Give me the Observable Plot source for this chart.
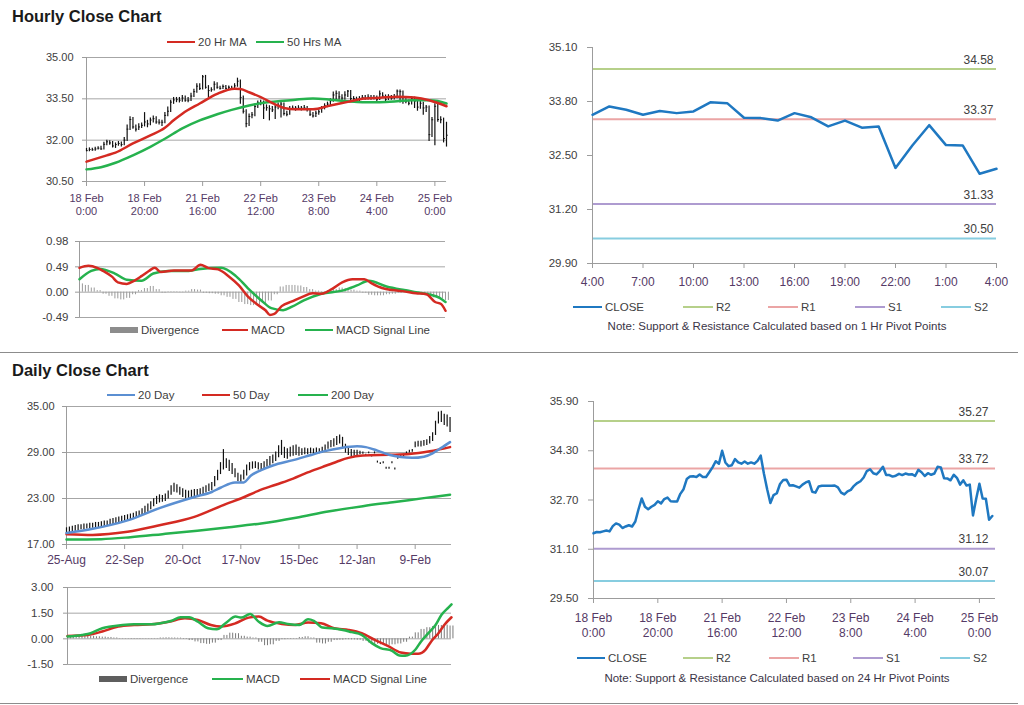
<!DOCTYPE html>
<html><head><meta charset="utf-8">
<script src="https://cdn.jsdelivr.net/npm/d3@7"></script>
<script src="https://cdn.jsdelivr.net/npm/@observablehq/plot@0.6"></script>
<style>
body{margin:0;background:#fff;font-family:"Liberation Sans",Arial,sans-serif;}
#root{position:relative;width:1024px;height:705px;overflow:hidden;background:#fff;}
.abs{position:absolute;}
.title{font-weight:bold;font-size:16.5px;color:#1a1a1a;line-height:1;white-space:nowrap;}
.leg{font-size:11.5px;color:#404040;white-space:nowrap;line-height:14px;}
.note{font-size:11.5px;color:#3a3446;white-space:nowrap;line-height:14px;text-align:center;}
.sep{position:absolute;left:4px;width:1018px;height:1px;background:#8c8c8c;}
</style></head><body><div id="root"></div>
<script>
// ---------------- DATA ----------------
// Hourly bars (18 Feb 0:00 .. 25 Feb 4:00, trading hours), index 0..124
const hourlyClose = [
31.62,31.66,31.65,31.68,31.71,31.68,31.85,31.94,31.90,31.79,
31.84,31.88,31.84,32.00,32.40,32.75,32.48,32.40,32.48,32.54,
32.66,32.59,32.73,32.78,32.66,32.65,32.65,32.90,33.05,33.38,
33.46,33.47,33.45,33.53,33.45,33.45,33.60,33.76,33.96,33.88,
34.30,33.92,33.80,33.83,34.03,33.92,33.88,33.95,33.88,33.92,
33.88,33.97,34.14,33.55,33.05,32.60,32.86,32.92,33.22,33.35,
33.36,33.17,33.18,33.14,33.10,33.20,33.27,33.31,32.97,32.94,
33.14,33.16,33.16,33.16,33.16,33.17,33.11,32.94,32.88,32.98,
33.03,33.16,33.25,33.31,33.43,33.64,33.70,33.57,33.53,33.64,
33.78,33.51,33.51,33.46,33.49,33.55,33.51,33.56,33.53,33.54,
33.48,33.68,33.60,33.48,33.57,33.52,33.56,33.78,33.76,33.41,
33.40,33.34,33.52,33.42,33.20,33.34,33.17,33.20,32.20,32.74,
33.23,32.75,32.74,32.06,32.18];
const hourlyHigh = [
31.70,31.72,31.71,31.74,31.76,31.78,31.92,32.00,31.98,31.95,
31.90,31.95,31.93,32.10,32.55,32.85,32.82,32.55,32.60,32.62,
33.00,32.72,32.80,32.88,32.85,32.74,32.72,33.00,33.20,33.45,
33.55,33.55,33.55,33.62,33.60,33.55,33.70,33.85,34.05,34.05,
34.35,34.35,33.98,33.90,34.12,34.08,33.96,34.00,33.98,33.97,
33.96,34.05,34.25,34.18,33.60,33.10,32.95,33.00,33.30,33.42,
33.45,33.42,33.28,33.25,33.22,33.28,33.35,33.40,33.35,33.05,
33.22,33.24,33.22,33.25,33.22,33.26,33.22,33.15,33.00,33.05,
33.10,33.22,33.32,33.38,33.50,33.75,33.78,33.76,33.65,33.76,
33.80,33.80,33.58,33.56,33.58,33.62,33.62,33.65,33.62,33.62,
33.60,33.78,33.72,33.64,33.65,33.62,33.66,33.82,33.82,33.78,
33.50,33.46,33.58,33.56,33.46,33.40,33.38,33.26,33.24,32.82,
33.32,33.30,32.85,32.80,32.65];
const hourlyLow = [
31.58,31.58,31.60,31.60,31.64,31.63,31.64,31.80,31.82,31.72,
31.70,31.78,31.75,31.80,31.95,32.35,32.40,32.30,32.35,32.42,
32.48,32.45,32.52,32.62,32.58,32.55,32.50,32.60,32.85,33.00,
33.30,33.36,33.35,33.38,33.38,33.36,33.40,33.55,33.70,33.80,
33.82,33.85,33.55,33.74,33.78,33.85,33.82,33.84,33.82,33.84,
33.82,33.84,33.92,33.30,32.95,32.45,32.50,32.78,32.85,33.15,
33.25,32.75,33.05,32.70,33.00,32.75,33.10,32.80,32.88,32.85,
32.90,33.08,33.05,33.08,33.06,33.08,33.02,32.86,32.80,32.82,
32.90,32.98,33.10,33.18,33.25,33.38,33.40,33.45,33.42,33.45,
33.55,33.40,33.42,33.38,33.40,33.44,33.45,33.46,33.45,33.46,
33.40,33.44,33.52,33.40,33.44,33.45,33.46,33.50,33.35,33.30,
33.32,33.25,33.28,33.15,33.05,33.12,32.90,33.00,31.95,32.10,
31.80,32.65,32.60,31.90,31.75];
// moving averages read at [hour index, value]
const ma20Hr = [[0,31.22],[7,31.45],[10,31.55],[16,31.88],[22,32.17],[27,32.45],[30,32.72],[33,32.96],[39,33.33],[45,33.68],[51,33.87],[53,33.86],[56,33.74],[60,33.56],[65,33.30],[68,33.17],[72,33.12],[78,33.12],[84,33.26],[90,33.39],[95,33.50],[101,33.54],[107,33.58],[113,33.55],[118,33.45],[121,33.35],[124,33.23]];
const ma50Hr = [[0,30.94],[5,31.02],[10,31.18],[16,31.45],[22,31.76],[27,32.05],[33,32.43],[39,32.72],[45,32.94],[50,33.10],[56,33.26],[61,33.36],[66,33.41],[72,33.47],[78,33.51],[84,33.47],[90,33.41],[95,33.38],[101,33.38],[107,33.41],[112,33.45],[118,33.45],[121,33.42],[124,33.33]];
// hourly MACD
const macdHr = [[0,0.47],[3,0.51],[6,0.47],[8,0.41],[11,0.30],[13,0.19],[16,0.16],[18.5,0.22],[21,0.31],[23.5,0.41],[25.5,0.47],[27.5,0.39],[32,0.42],[38,0.42],[41,0.53],[43.5,0.47],[47,0.44],[50.5,0.31],[54,0.13],[57,-0.08],[60.5,-0.25],[63,-0.35],[64.5,-0.44],[66,-0.42],[68.5,-0.27],[72,-0.18],[75.5,-0.09],[79,-0.02],[82,-0.03],[85.5,0.06],[89,0.19],[92.5,0.25],[96.5,0.25],[99,0.17],[102.5,0.08],[106,0.04],[109.5,0.02],[114,-0.02],[117.5,-0.04],[120.5,-0.19],[122.5,-0.23],[124,-0.36]];
const signalHr = [[0,0.25],[4,0.41],[7,0.45],[12,0.36],[16,0.24],[21,0.22],[25,0.36],[30,0.41],[37,0.41],[41,0.45],[48,0.47],[53,0.31],[57,0.08],[62,-0.18],[65,-0.31],[69,-0.35],[72,-0.28],[76,-0.16],[82,-0.03],[89,0.03],[94,0.13],[98,0.22],[104,0.11],[110,0.04],[114,0.00],[119,-0.05],[122,-0.11],[124,-0.19]];
// hourly divergence, every 2nd hour (0,2,...,124)
const divHr = [0.16,0.13,0.08,0.03,-0.04,-0.08,-0.13,-0.15,-0.12,-0.05,
0.03,0.07,0.11,0.05,-0.02,0.01,0.01,-0.01,0.02,0.05,
0.04,-0.02,-0.03,-0.04,-0.07,-0.1,-0.14,-0.2,-0.24,-0.26,
-0.25,-0.22,-0.17,-0.05,0.1,0.13,0.13,0.12,0.09,0.05,
0.02,0.01,0.03,0.05,0.08,0.07,0.04,0.02,-0.02,-0.06,
-0.07,-0.07,-0.05,-0.04,-0.02,-0.01,-0.02,-0.03,-0.05,-0.08,
-0.11,-0.13,-0.16];

// Daily bars (25-Aug .. 25-Feb trading days), index 0..132
const dailyHigh = [
19.1,19.2,19.3,19.4,19.5,19.5,19.6,19.6,19.7,19.7,
19.8,19.8,19.9,20.0,20.0,20.2,20.3,20.4,20.5,20.6,
20.7,20.8,20.9,21.0,21.2,21.3,21.6,21.9,22.2,22.5,
22.9,23.2,23.4,23.3,23.5,23.9,24.6,24.9,24.7,24.4,
24.2,24.0,23.9,24.0,24.1,24.1,24.2,24.4,24.6,24.8,
25.0,25.8,26.6,27.6,29.3,28.1,27.9,27.5,26.8,26.2,
26.0,26.6,27.3,27.6,27.7,27.7,27.6,27.5,27.7,28.0,
28.4,28.6,29.0,29.8,30.5,29.6,29.4,29.6,29.8,29.9,
29.6,29.4,29.5,29.4,29.5,29.4,29.5,29.4,29.6,29.9,
30.3,30.5,30.7,31.0,31.2,30.9,30.0,29.6,29.3,29.2,
29.2,29.1,29.0,28.7,29.0,28.6,29.0,27.8,27.6,27.7,
27.0,27.0,27.7,26.9,28.5,28.6,28.7,29.0,29.2,29.3,
30.3,30.4,30.4,30.5,30.6,31.0,31.5,33.0,34.2,34.3,
33.9,33.8,33.5];
const dailyLow = [
18.5,18.6,18.7,18.8,18.9,19.0,19.0,19.1,19.1,19.2,
19.2,19.3,19.4,19.4,19.5,19.6,19.7,19.8,19.9,20.0,
20.1,20.2,20.3,20.4,20.5,20.6,20.8,21.1,21.3,21.6,
22.0,22.3,22.5,22.6,22.7,23.0,23.5,23.9,23.8,23.5,
23.2,23.0,23.1,23.2,23.3,23.4,23.4,23.6,23.8,24.0,
24.1,24.6,25.4,26.2,26.8,27.0,26.6,26.2,25.8,25.3,
25.2,25.5,26.0,26.7,26.9,27.0,26.8,26.7,26.9,27.2,
27.3,27.6,27.9,28.4,28.7,28.3,28.2,28.5,28.6,28.7,
28.6,28.7,28.8,28.8,28.9,28.8,28.9,28.9,29.0,29.2,
29.5,29.7,29.8,30.0,30.2,29.6,29.0,28.7,28.5,28.6,
28.7,28.8,28.85,28.6,28.9,28.5,28.9,27.7,27.5,27.6,
26.9,26.9,27.6,26.8,28.2,28.3,28.5,28.8,29.0,29.1,
29.7,29.8,29.8,29.9,30.0,30.2,30.5,31.3,32.8,33.0,
32.6,32.4,31.7];
const ma20Day = [[0,18.5],[9,19.05],[21,20.15],[32,21.75],[44,23.2],[50,23.85],[53,24.4],[58,25.1],[61,25.1],[63.5,26.0],[67,26.7],[71,27.3],[78,28.0],[83.5,28.6],[88.5,29.15],[94.5,29.6],[100,29.8],[103,29.7],[107,29.25],[111,28.7],[115,28.4],[119,28.3],[123,28.45],[126,28.9],[129,29.6],[132,30.35]];
const ma50Day = [[0,18.35],[9,18.25],[21,18.65],[32,19.5],[44,20.6],[55,22.3],[60,23.0],[66,24.0],[72,24.8],[78,25.6],[83,26.4],[88,27.1],[93,27.8],[97,28.3],[102,28.6],[111,28.7],[118,28.8],[125,29.15],[132,29.7]];
const ma200Day = [[0,17.65],[12,17.7],[22,17.95],[33,18.35],[45,18.8],[56,19.25],[67,19.75],[79,20.5],[90,21.3],[102,22.0],[113,22.55],[123,23.05],[132,23.5]];
const macdDay = [[0,0.14],[5,0.23],[8,0.33],[12,0.62],[15,0.72],[19,0.81],[23,0.85],[29,0.85],[32,0.91],[36,1.06],[39,1.26],[42,1.26],[45,1.00],[48.5,0.62],[51.5,0.56],[54.5,0.91],[58,1.30],[60,1.24],[63,1.45],[66,1.00],[69,0.75],[73,0.97],[76,0.87],[80,0.81],[83,1.14],[85,1.05],[88,0.66],[91,0.62],[95,0.52],[98,0.39],[101.5,0.23],[105,-0.25],[108,-0.54],[112,-0.70],[114.5,-0.97],[116.5,-0.99],[120,-0.64],[122,-0.15],[124.5,0.33],[127,0.81],[129,1.39],[131.5,1.84],[132.5,2.01]];
const signalDay = [[0,0.17],[7,0.23],[12,0.43],[17.5,0.72],[23,0.81],[29,0.85],[35,1.00],[40.5,1.20],[45,1.10],[49.5,0.81],[53,0.72],[58,0.91],[62.5,1.24],[66,1.30],[69,1.06],[74,0.87],[78.5,0.81],[83,0.95],[87.5,0.91],[92,0.62],[97,0.52],[101.5,0.33],[106,-0.06],[110.5,-0.41],[115,-0.80],[118.5,-0.87],[121,-0.87],[123.5,-0.64],[125.5,-0.15],[128,0.33],[130,0.81],[132.5,1.26]];
// daily divergence, every 2nd day (0,2,...,132)
const divDay = [0.15,0.18,0.2,0.18,0.15,0.12,0.1,0.08,0.05,0.02,
-0.02,-0.03,-0.03,-0.02,-0.02,0.02,0.05,0.06,0.05,0.04,
-0.03,-0.1,-0.18,-0.28,-0.32,-0.25,-0.1,0.2,0.33,0.3,
0.15,0.1,0.05,-0.2,-0.4,-0.35,-0.15,-0.05,-0.03,0.02,
0.08,0.12,0.05,-0.25,-0.3,-0.2,-0.1,-0.08,-0.05,-0.06,
-0.08,-0.15,-0.25,-0.32,-0.35,-0.38,-0.35,-0.3,-0.2,0.1,
0.35,0.55,0.65,0.72,0.78,0.8,0.75];

// pivots
const pivotNames = ["R2","R1","S1","S2"];
const pivotHourly = [34.58, 33.37, 31.33, 30.50];
const pivotDaily = [35.27, 33.72, 31.12, 30.07];

// ticks & labels
const hourTickIdx = [0,20,40,60,80,100,120];
const hourTickLabels = ["18 Feb\n0:00","18 Feb\n20:00","21 Feb\n16:00","22 Feb\n12:00","23 Feb\n8:00","24 Feb\n4:00","25 Feb\n0:00"];
const pivotHrTickIdx = [0,3,6,9,12,15,18,21,24];
const pivotHrTickLabels = ["4:00","7:00","10:00","13:00","16:00","19:00","22:00","1:00","4:00"];
const dayTickIdx = [0,20,40,60,80,100,120];
const dayTickLabels = ["25-Aug","22-Sep","20-Oct","17-Nov","15-Dec","12-Jan","9-Feb"];
const yHrCandle = [30.5,32,33.5,35];
const yHrMacd = [-0.49,0,0.49,0.98];
const yHrPivot = [29.9,31.2,32.5,33.8,35.1];
const yDayCandle = [17,23,29,35];
const yDayMacd = [-1.5,0,1.5,3];
const yDayPivot = [29.5,31.1,32.7,34.3,35.9];

// ---------------- STYLE ----------------
const RED = "#d42a22", GREEN = "#26b24e", BLUE20 = "#5b8fd2", CLOSE = "#1f78c1";
const pivotColors = ["#b6d08a","#eba5a5","#ae9bd0","#87cde0"];
const GRID = "#a6a6a6", AX = "#9c9c9c", YL = "#404040", XL = "#553a66";
const FONT = '"Liberation Sans", Arial, sans-serif';
const root = document.getElementById("root");
const fmt2 = d => d.toFixed(2);
const pairs = a => a.map(([i,v]) => ({i, v}));
const baseStyle = {fontFamily: FONT, fontSize: "11px", background: "transparent", color: YL, overflow: "visible"};
function place(el, left, top){ el.style.position="absolute"; el.style.left=left+"px"; el.style.top=top+"px"; root.appendChild(el); }
function div(cls, left, top, text, extra){ const d=document.createElement("div"); d.className="abs "+cls; d.style.left=left+"px"; d.style.top=top+"px"; if(text!=null) d.textContent=text; if(extra) Object.assign(d.style, extra); root.appendChild(d); return d; }
function legend(y, items){
  items.forEach(it=>{
    const h = it.rect ? 6 : (it.thick||2);
    div("", it.x, y - h/2, null, {width: it.w+"px", height: h+"px", background: it.color});
    div("leg", it.x + it.w + 3, y - 7.5, it.label);
  });
}

// titles & separators
div("title", 12, 8, "Hourly Close Chart");
div("title", 12, 362, "Daily Close Chart");
div("sep", 0, 352);
div("sep", 0, 703);

// -------- Panel 1: hourly bars + MAs --------
const hourlyRows = hourlyClose.map((c,i)=>({i, close:c, high:hourlyHigh[i], low:hourlyLow[i]}));
place(Plot.plot({
  width:460, height:200, marginLeft:86, marginRight:14, marginTop:27, marginBottom:49,
  style: baseStyle, x:{domain:[0,124]}, y:{domain:[30.5,35]},
  marks:[
    Plot.gridY({ticks:yHrCandle, stroke:GRID, strokeOpacity:1}),
    Plot.ruleX([0],{stroke:AX}),
    Plot.axisY({ticks:yHrCandle, tickFormat:fmt2, tickSize:4, tickPadding:9, stroke:AX, fill:YL, fontSize:11, label:null}),
    Plot.axisX({ticks:hourTickIdx, tickFormat:i=>hourTickLabels[hourTickIdx.indexOf(i)], tickSize:5, tickPadding:6, stroke:AX, fill:XL, fontSize:11, lineHeight:1.2, label:null}),
    Plot.ruleX(hourlyRows,{x:"i", y1:"low", y2:"high", stroke:"#111", strokeWidth:1.2}),
    Plot.ruleY(hourlyRows,{y:"close", x1:"i", x2:d=>d.i+0.6, stroke:"#111", strokeWidth:1}),
    Plot.line(pairs(ma50Hr),{x:"i", y:"v", stroke:GREEN, strokeWidth:2.5, curve:"monotone-x"}),
    Plot.line(pairs(ma20Hr),{x:"i", y:"v", stroke:RED, strokeWidth:2.5, curve:"monotone-x"})
  ]
}), 0, 30);
legend(42, [{x:167,w:28,color:RED,label:"20 Hr MA"},{x:256,w:28,color:GREEN,label:"50 Hrs MA"}]);

// -------- Panel 2: hourly MACD --------
const divHrRows = divHr.map((v,k)=>({i:2*k, v}));
place(Plot.plot({
  width:460, height:100, marginLeft:79, marginRight:15, marginTop:16, marginBottom:8,
  style: baseStyle, x:{domain:[0,124], axis:null}, y:{domain:[-0.49,0.98]},
  marks:[
    Plot.gridY({ticks:yHrMacd, stroke:GRID, strokeOpacity:1}),
    Plot.ruleX([0],{stroke:AX}),
    Plot.axisY({ticks:yHrMacd, tickFormat:fmt2, tickSize:4, tickPadding:7, stroke:AX, fill:YL, fontSize:11.5, label:null}),
    Plot.ruleX(divHrRows,{x:"i", y1:0, y2:"v", stroke:"#9a9a9a", strokeWidth:1}),
    Plot.ruleX(divHrRows,{x:"i", y1:0, y2:"v", stroke:"#9a9a9a", strokeWidth:1, dx:2.9}),
    Plot.line(pairs(signalHr),{x:"i", y:"v", stroke:GREEN, strokeWidth:2.5, curve:"monotone-x"}),
    Plot.line(pairs(macdHr),{x:"i", y:"v", stroke:RED, strokeWidth:2.5, curve:"monotone-x"})
  ]
}), 0, 225);
legend(330, [{x:110,w:28,color:"#8c8c8c",rect:true,label:"Divergence"},{x:222,w:26,color:RED,label:"MACD"},{x:305,w:28,color:GREEN,label:"MACD Signal Line"}]);

// -------- Panel 3: last 24 hours with 1 Hr pivots --------
const pivHr = pivotNames.map((n,k)=>({name:n, value:pivotHourly[k], color:pivotColors[k]}));
place(Plot.plot({
  width:500, height:270, marginLeft:72, marginRight:24, marginTop:17, marginBottom:37,
  style: baseStyle, x:{domain:[0,24]}, y:{domain:[29.9,35.1]}, color:{type:"identity"},
  marks:[
    Plot.ruleY(pivHr,{y:"value", stroke:"color", strokeWidth:2}),
    Plot.ruleX([0],{stroke:AX}),
    Plot.ruleY([29.9],{stroke:AX}),
    Plot.axisY({ticks:yHrPivot, tickFormat:fmt2, tickSize:5, tickPadding:10, stroke:AX, fill:YL, fontSize:11.5, label:null}),
    Plot.axisX({ticks:pivotHrTickIdx, tickFormat:i=>pivotHrTickLabels[pivotHrTickIdx.indexOf(i)], tickSize:5, tickPadding:9, stroke:AX, fill:XL, fontSize:12, label:null}),
    Plot.text(pivHr,{x:()=>24, y:"value", text:d=>fmt2(d.value), textAnchor:"end", dx:-3, dy:-9, fontSize:12, fill:YL}),
    Plot.line(hourlyClose.slice(100),{x:(d,i)=>i, y:d=>d, stroke:CLOSE, strokeWidth:2.5})
  ]
}), 520, 30);
legend(307, [{x:573,w:29,color:CLOSE,thick:2.5,label:"CLOSE"},
  ...pivotNames.map((n,k)=>({x:[683,768,855,941][k], w:30, color:pivotColors[k], label:n}))]);
div("note", 577, 319, "Note: Support & Resistance Calculated based on 1 Hr Pivot Points", {width:"400px"});

// -------- Panel 4: daily bars + MAs --------
const dailyRows = dailyHigh.map((h,i)=>({i, high:h, low:dailyLow[i]}));
place(Plot.plot({
  width:460, height:190, marginLeft:66, marginRight:9, marginTop:21, marginBottom:31,
  style: baseStyle, x:{domain:[0,132.5]}, y:{domain:[17,35]},
  marks:[
    Plot.gridY({ticks:yDayCandle, stroke:GRID, strokeOpacity:1}),
    Plot.ruleX([0],{stroke:AX}),
    Plot.axisY({ticks:yDayCandle, tickFormat:fmt2, tickSize:4, tickPadding:8, stroke:AX, fill:YL, fontSize:11, label:null}),
    Plot.axisX({ticks:dayTickIdx, tickFormat:i=>dayTickLabels[dayTickIdx.indexOf(i)], tickSize:5, tickPadding:6, stroke:AX, fill:XL, fontSize:12, label:null}),
    Plot.ruleX(dailyRows,{x:"i", y1:"low", y2:"high", stroke:"#111", strokeWidth:1.2, strokeLinecap:"square"}),
    Plot.line(pairs(ma200Day),{x:"i", y:"v", stroke:GREEN, strokeWidth:2.5, curve:"monotone-x"}),
    Plot.line(pairs(ma50Day),{x:"i", y:"v", stroke:RED, strokeWidth:2.5, curve:"monotone-x"}),
    Plot.line(pairs(ma20Day),{x:"i", y:"v", stroke:BLUE20, strokeWidth:2.5, curve:"monotone-x"})
  ]
}), 0, 385);
legend(395, [{x:107,w:28,color:BLUE20,label:"20 Day"},{x:202,w:28,color:RED,label:"50 Day"},{x:298,w:30,color:GREEN,label:"200 Day"}]);

// -------- Panel 5: daily MACD --------
const divDayRows = divDay.map((v,k)=>({i:2*k, v}));
place(Plot.plot({
  width:460, height:100, marginLeft:67, marginRight:9, marginTop:12, marginBottom:11,
  style: baseStyle, x:{domain:[0,132.5], axis:null}, y:{domain:[-1.5,3]},
  marks:[
    Plot.gridY({ticks:yDayMacd, stroke:GRID, strokeOpacity:1}),
    Plot.ruleX([0],{stroke:AX}),
    Plot.axisY({ticks:yDayMacd, tickFormat:fmt2, tickSize:4, tickPadding:10, stroke:AX, fill:YL, fontSize:11.5, label:null}),
    Plot.ruleX(divDayRows,{x:"i", y1:0, y2:"v", stroke:"#7a7a7a", strokeWidth:1}),
    Plot.ruleX(divDayRows,{x:"i", y1:0, y2:"v", stroke:"#7a7a7a", strokeWidth:1, dx:2.9}),
    Plot.line(pairs(signalDay),{x:"i", y:"v", stroke:RED, strokeWidth:2.5, curve:"monotone-x"}),
    Plot.line(pairs(macdDay),{x:"i", y:"v", stroke:GREEN, strokeWidth:2.5, curve:"monotone-x"})
  ]
}), 0, 575);
legend(679, [{x:99,w:28,color:"#5e5e5e",rect:true,label:"Divergence"},{x:212,w:31,color:GREEN,label:"MACD"},{x:300,w:30,color:RED,label:"MACD Signal Line"}]);

// -------- Panel 6: hourly close with 24 Hr pivots --------
const pivDay = pivotNames.map((n,k)=>({name:n, value:pivotDaily[k], color:pivotColors[k]}));
place(Plot.plot({
  width:500, height:270, marginLeft:73, marginRight:25, marginTop:16, marginBottom:57,
  style: baseStyle, x:{domain:[0,125]}, y:{domain:[29.5,35.9]}, color:{type:"identity"},
  marks:[
    Plot.ruleY(pivDay,{y:"value", stroke:"color", strokeWidth:2}),
    Plot.ruleX([0],{stroke:AX}),
    Plot.ruleY([29.5],{stroke:AX}),
    Plot.axisY({ticks:yDayPivot, tickFormat:fmt2, tickSize:5, tickPadding:10, stroke:AX, fill:YL, fontSize:11.5, label:null}),
    Plot.axisX({ticks:hourTickIdx, tickFormat:i=>hourTickLabels[hourTickIdx.indexOf(i)], tickSize:5, tickPadding:8, stroke:AX, fill:XL, fontSize:12, lineHeight:1.25, label:null}),
    Plot.text(pivDay,{x:()=>125, y:"value", text:d=>fmt2(d.value), textAnchor:"end", dx:-7, dy:-9, fontSize:12, fill:YL}),
    Plot.line(hourlyClose,{x:(d,i)=>i, y:d=>d, stroke:CLOSE, strokeWidth:2.5})
  ]
}), 520, 385);
legend(658, [{x:577,w:28,color:CLOSE,thick:2.5,label:"CLOSE"},
  ...pivotNames.map((n,k)=>({x:[683,769,853,940][k], w:30, color:pivotColors[k], label:n}))]);
div("note", 577, 671, "Note: Support & Resistance Calculated based on 24 Hr Pivot Points", {width:"400px"});
</script></body></html>
